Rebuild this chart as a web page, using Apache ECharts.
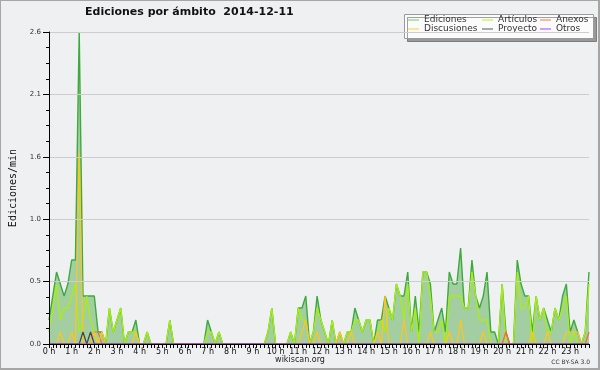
<!DOCTYPE html>
<html><head><meta charset="utf-8">
<script src="https://cdn.jsdelivr.net/npm/echarts@6/dist/echarts.min.js"></script>
<style>
html,body{margin:0;padding:0;background:#eff0f2;}
#wrap{position:relative;width:600px;height:370px;}
#chart{position:absolute;left:0;top:0;width:600px;height:370px;}
#frame{position:absolute;left:0;top:0;width:597px;height:367px;border-left:1px solid #a6a6a6;border-top:1px solid #a6a6a6;border-right:2px solid #a6a6a6;border-bottom:2px solid #a6a6a6;pointer-events:none;}
</style></head>
<body><div id="wrap"><div id="chart"></div><div id="frame"></div></div>
<script>
const hourLabels = ['0 h','1 h','2 h','3 h','4 h','5 h','6 h','7 h','8 h','9 h','10 h','11 h','12 h','13 h','14 h','15 h','16 h','17 h','18 h','19 h','20 h','21 h','22 h','23 h'];
const minuteSteps = ['00','10','20','30','40','50'];
const yTicks = [0, 0.52, 1.04, 1.56, 2.08, 2.6];

const ediciones = [
0.2,0.4,0.6,0.5,0.4,0.5,0.7,0.7,2.6,0.4,0.4,0.4,
0.4,0.1,0.1,0,0.3,0.1,0.2,0.3,0,0.1,0.1,0.2,
0,0,0.1,0,0,0,0,0,0.2,0,0,0,
0,0,0,0,0,0,0.2,0.1,0,0.1,0,0,
0,0,0,0,0,0,0,0,0,0,0.1,0.3,
0,0,0,0,0.1,0,0.3,0.3,0.4,0,0.1,0.4,
0.2,0.1,0,0.2,0,0.1,0,0.1,0.1,0.3,0.2,0.1,
0.2,0.2,0,0.2,0.2,0.4,0.3,0.2,0.5,0.4,0.4,0.6,
0.1,0.4,0.1,0.6,0.6,0.5,0.1,0.2,0.3,0.1,0.6,0.5,
0.5,0.8,0.3,0.3,0.7,0.4,0.3,0.4,0.6,0.1,0.1,0,
0.5,0.1,0,0,0.7,0.5,0.4,0.4,0.1,0.4,0.2,0.3,
0.2,0.1,0.3,0.2,0.4,0.5,0.1,0.2,0.1,0,0.1,0.6];

const articulos = [
0.1,0.3,0.5,0.2,0.3,0.3,0.4,0.5,0.1,0.2,0.4,0.2,
0.1,0,0,0,0.3,0.1,0.2,0.3,0,0.1,0.1,0.1,
0,0,0.1,0,0,0,0,0,0.2,0,0,0,
0,0,0,0,0,0,0.1,0.1,0,0.1,0,0,
0,0,0,0,0,0,0,0,0,0,0.1,0.3,
0,0,0,0,0.1,0,0.3,0.2,0.2,0,0.1,0.3,
0.2,0.1,0,0.2,0,0.1,0,0.1,0.1,0.2,0.2,0.1,
0.2,0.2,0,0.1,0.2,0.1,0.3,0.2,0.5,0.4,0.2,0.5,
0.1,0.3,0,0.6,0.6,0.4,0.1,0.1,0.2,0,0.4,0.4,
0.4,0.4,0.3,0.3,0.6,0.4,0.2,0.2,0.2,0,0,0,
0.5,0,0,0,0.6,0.3,0.3,0.4,0,0.4,0.2,0.3,
0.1,0.1,0.3,0.2,0.3,0.4,0,0.1,0,0,0.1,0.5];

const anexos = [
0,0,0,0,0,0,0,0,0,0,0,0,
0.1,0.1,0,0,0,0,0,0,0,0,0,0,
0,0,0,0,0,0,0,0,0,0,0,0,
0,0,0,0,0,0,0,0,0,0,0,0,
0,0,0,0,0,0,0,0,0,0,0,0,
0,0,0,0,0,0,0,0,0,0,0,0,
0,0,0,0,0,0,0,0,0,0,0,0,
0,0,0,0,0,0,0,0,0,0,0,0,
0,0,0,0,0,0,0,0,0,0,0,0,
0,0,0,0,0,0,0,0,0,0,0,0,
0,0.1,0,0,0,0,0,0,0,0,0,0,
0,0,0,0,0,0,0,0,0,0,0,0.1];

const discusiones = [
0,0,0,0.1,0,0,0.1,0,1.6,0,0,0,
0.1,0,0.1,0,0,0,0,0,0,0,0,0.1,
0,0,0,0,0,0,0,0,0,0,0,0,
0,0,0,0,0,0,0,0,0,0,0,0,
0,0,0,0,0,0,0,0,0,0,0,0,
0,0,0,0,0,0,0,0.1,0.2,0,0,0.1,
0,0,0,0,0,0.1,0,0,0.1,0,0,0,
0,0,0,0.1,0,0.4,0,0,0,0,0.2,0,
0,0,0,0,0,0.1,0,0,0,0,0.1,0,
0,0.2,0,0,0,0,0,0.1,0,0,0,0,
0,0,0,0,0,0,0,0,0.1,0,0,0,
0.1,0,0,0,0,0.1,0.1,0.1,0.1,0,0,0];

const proyecto = [
0,0,0,0,0,0,0,0,0,0.1,0,0.1,
0,0,0,0,0,0,0,0,0,0,0,0,
0,0,0,0,0,0,0,0,0,0,0,0,
0,0,0,0,0,0,0,0,0,0,0,0,
0,0,0,0,0,0,0,0,0,0,0,0,
0,0,0,0,0,0,0,0,0,0,0,0,
0,0,0,0,0,0,0,0,0,0,0,0,
0,0,0,0,0,0,0,0,0,0,0,0,
0,0,0,0,0,0,0,0,0,0,0,0,
0,0,0,0,0,0,0,0,0,0,0,0,
0,0,0,0,0,0,0,0,0,0,0,0,
0,0,0,0,0,0,0,0,0,0,0,0];

const otros = [
0,0,0,0,0,0,0,0,0,0,0,0,
0,0,0,0,0,0,0,0,0,0,0,0,
0,0,0,0,0,0,0,0,0,0,0,0,
0,0,0,0,0,0,0,0,0,0,0,0,
0,0,0,0,0,0,0,0,0,0,0,0,
0,0,0,0,0,0,0,0,0,0,0,0,
0,0,0,0,0,0,0,0,0,0,0,0,
0,0,0,0,0,0,0,0,0,0,0,0,
0,0,0,0,0,0,0,0,0,0,0,0,
0,0,0,0,0,0,0,0,0,0,0,0,
0,0,0,0,0,0,0,0,0,0,0,0,
0,0,0,0,0,0,0,0,0,0,0,0];

const categories = [];
hourLabels.forEach(function (h, k) { minuteSteps.forEach(function (m) { categories.push(k + ':' + m); }); });

const FONT = 'DejaVu Sans';
function leg(name, color, left, top) {
  return {
    data: [{ name: name, icon: 'rect', itemStyle: { color: color, borderWidth: 0 } }],
    left: left, top: top, padding: 0, itemGap: 0,
    itemWidth: 11, itemHeight: 1, selectedMode: false, z: 6,
    textStyle: { fontFamily: FONT, fontSize: 9, color: '#333' }
  };
}
function line(name, data, color, width, extra) {
  return Object.assign({
    name: name, type: 'line', data: data, symbol: 'none', showSymbol: false,
    lineStyle: { color: color, width: width }, itemStyle: { color: color },
    animation: false, silent: true
  }, extra || {});
}

const chart = echarts.init(document.getElementById('chart'), null, { renderer: 'canvas' });
chart.setOption({
  backgroundColor: '#eff0f2',
  animation: false,
  title: {
    text: 'Ediciones por ámbito  2014-12-11', left: 85, top: 7, padding: 0,
    textStyle: { fontFamily: FONT, fontSize: 11, fontWeight: 'bold', color: '#111' }
  },
  legend: [
    leg('Ediciones', '#66cc66', 408, 15.5),
    leg('Artículos', '#bbee22', 482, 15.5),
    leg('Anexos', '#ff7744', 540, 15.5),
    leg('Discusiones', '#ffcc33', 408, 24.5),
    leg('Proyecto', '#555555', 482, 24.5),
    leg('Otros', '#9944ff', 540, 24.5)
  ],
  grid: { left: 46, right: 11, top: 32, bottom: 26 },
  xAxis: {
    type: 'category', data: categories, boundaryGap: false, z: 10,
    axisLine: { lineStyle: { color: '#000', width: 1 } },
    axisTick: { interval: 0, length: 4, lineStyle: { color: '#000' } },
    axisLabel: {
      interval: 5, margin: 4, fontFamily: FONT, fontSize: 8, color: '#111',
      formatter: function (v, i) { return hourLabels[Math.round(i / 6)]; }
    },
    splitLine: { show: false }
  },
  yAxis: {
    type: 'value', min: yTicks[0], max: yTicks[yTicks.length - 1], interval: yTicks[1] - yTicks[0], z: 10,
    name: 'Ediciones/min', nameLocation: 'middle', nameGap: 31, nameRotate: 90,
    nameTextStyle: { fontFamily: 'DejaVu Sans Mono', fontSize: 10, color: '#111' },
    axisLine: { show: true, lineStyle: { color: '#000', width: 1 } },
    axisTick: { show: true, length: 6, lineStyle: { color: '#000' } },
    minorTick: { show: true, splitNumber: 4, length: 3, lineStyle: { color: '#000' } },
    axisLabel: { margin: 8, fontFamily: FONT, fontSize: 7, color: '#333',
      formatter: function (v) { return v.toFixed(1); } },
    splitLine: { show: true, lineStyle: { color: '#cdcdcd', width: 1 } }
  },
  graphic: [
    { type: 'rect', z: 3, shape: { x: 404.5, y: 14.5, width: 189, height: 24 },
      style: { fill: '#fbfbfb', stroke: '#9a9a9a', lineWidth: 1, shadowColor: 'rgba(0,0,0,0.36)', shadowOffsetX: 3, shadowOffsetY: 3, shadowBlur: 0 } },
    { type: 'text', z: 3, left: 'center', top: 356,
      style: { text: 'wikiscan.org', fontFamily: FONT, fontSize: 8, fill: '#222' } },
    { type: 'text', z: 3, right: 10, top: 359,
      style: { text: 'CC BY-SA 3.0', fontFamily: FONT, fontSize: 6, fill: '#333' } }
  ],
  series: [
    line('Ediciones', ediciones, '#3caa3c', 1.4, { areaStyle: { color: '#a2cea2', opacity: 1 } }),
    line('Artículos', articulos, '#aaee11', 1.3),
    line('Anexos', anexos, '#ff6633', 1.2),
    line('Discusiones', discusiones, '#ffc61a', 1.2),
    line('Proyecto', proyecto, '#444444', 1.2),
    line('Otros', otros, '#9933ff', 1)
  ]
});
</script>
</body></html>
